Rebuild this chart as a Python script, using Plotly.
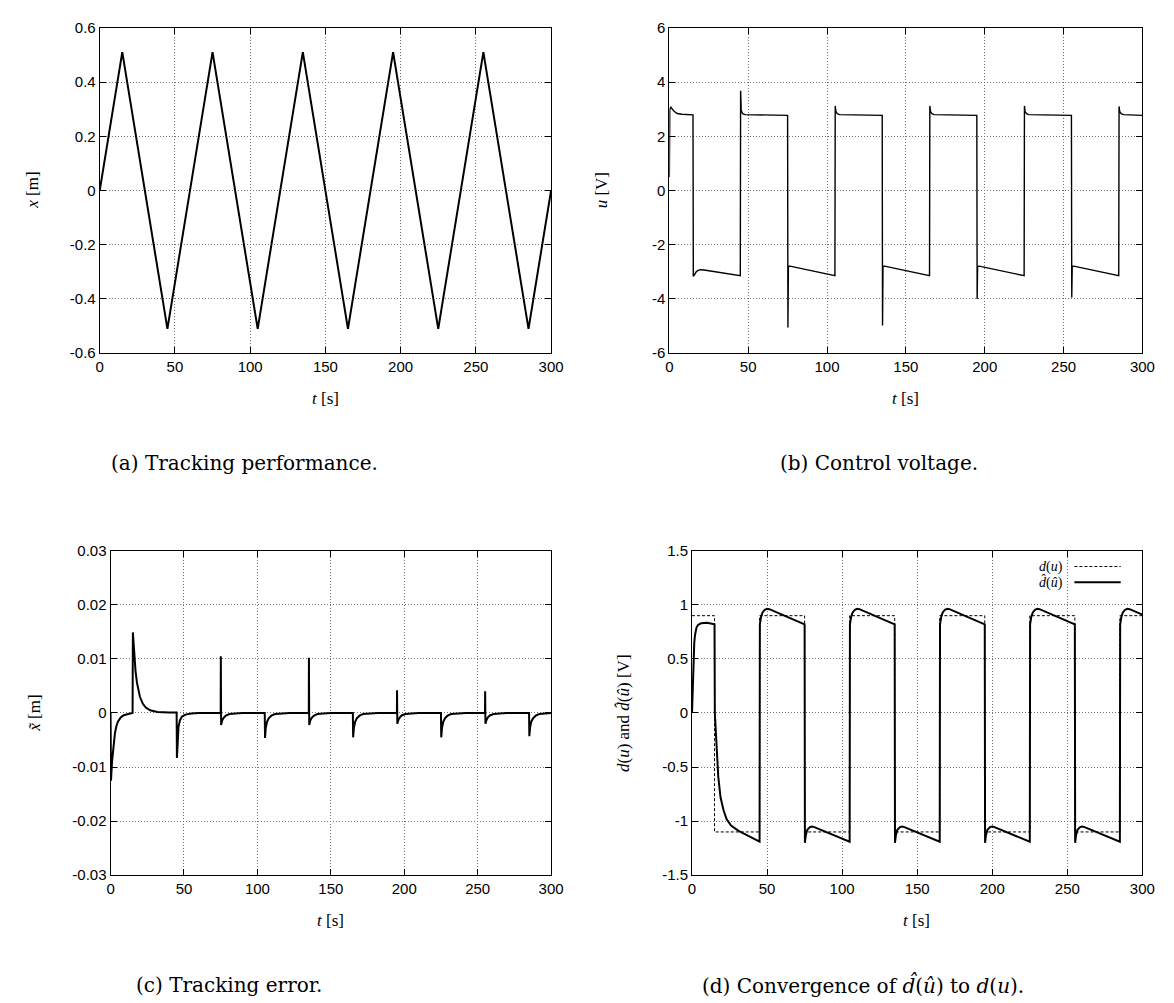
import plotly.graph_objects as go

# ---------------- data ----------------
t_ticks = [0, 50, 100, 150, 200, 250, 300]

# (a) tracking performance: triangular trajectory vertices
a_t = [0, 15, 45, 75, 105, 135, 165, 195, 225, 255, 285, 300]
a_x = [0, 0.51, -0.51, 0.51, -0.51, 0.51, -0.51, 0.51, -0.51, 0.51, -0.51, 0]
a_yticks = [-0.6, -0.4, -0.2, 0, 0.2, 0.4, 0.6]
a_ylabels = ["-0.6", "-0.4", "-0.2", "0", "0.2", "0.4", "0.6"]

# (b) control voltage
b_t = [0, 0.3, 1, 2, 3, 5, 8, 15,
       15.2, 16, 17, 18.5, 20, 22, 45,
       45.2, 45.6, 46.5, 48, 75,
       75.2, 75.5, 76.5, 105,
       105.2, 105.6, 106.5, 108, 135,
       135.2, 135.5, 136.5, 165,
       165.2, 165.6, 166.5, 168, 195,
       195.2, 195.5, 196.5, 225,
       225.2, 225.6, 226.5, 228, 255,
       255.2, 255.5, 256.5, 285,
       285.2, 285.6, 286.5, 288, 300]
b_u = [0.5, 3.0, 3.07, 3.0, 2.92, 2.84, 2.81, 2.79,
       -3.17, -3.1, -3.0, -2.94, -2.92, -2.93, -3.14,
       3.68, 2.95, 2.83, 2.8, 2.77,
       -5.05, -2.8, -2.79, -3.14,
       3.12, 2.92, 2.83, 2.8, 2.77,
       -4.98, -2.8, -2.79, -3.14,
       3.12, 2.92, 2.83, 2.8, 2.77,
       -4.0, -2.8, -2.79, -3.14,
       3.12, 2.92, 2.83, 2.8, 2.77,
       -3.95, -2.8, -2.79, -3.14,
       3.1, 2.92, 2.83, 2.8, 2.77]
b_yticks = [-6, -4, -2, 0, 2, 4, 6]
b_ylabels = ["-6", "-4", "-2", "0", "2", "4", "6"]

# (c) tracking error
c_t = [0, 0.3, 1, 2, 3, 4, 5, 7, 9, 12, 15,
       15.2, 16, 17, 18, 19, 20, 22, 24, 27, 32, 40, 45,
       45.2, 45.6, 46.3, 47.2, 48.5, 51, 55, 60, 75,
       75.1, 75.3, 76, 77, 78.5, 81, 85, 90, 105,
       105.2, 105.7, 106.5, 107.7, 109.5, 112, 116, 122, 135,
       135.1, 135.3, 136, 137, 138.5, 141, 145, 150, 165,
       165.2, 165.7, 166.5, 167.7, 169.5, 172, 176, 182, 195,
       195.1, 195.3, 196, 197, 198.5, 201, 205, 210, 225,
       225.2, 225.7, 226.5, 227.7, 229.5, 232, 236, 242, 255,
       255.1, 255.3, 256, 257, 258.5, 261, 265, 270, 285,
       285.2, 285.7, 286.5, 287.7, 289.5, 292, 296, 300]
c_e = [0, -0.0125, -0.009, -0.0057, -0.0037, -0.0024, -0.0016, -0.0008, -0.0004, -0.0002, 0,
       0.0149, 0.0112, 0.0078, 0.0056, 0.0041, 0.003, 0.0017, 0.001, 0.0005, 0.0002, 0.0001, 0.0001,
       -0.0083, -0.0045, -0.0025, -0.0014, -0.0007, -0.0003, -0.0001, 0, 0,
       0.0105, -0.0022, -0.0014, -0.0009, -0.0005, -0.0002, -0.0001, 0, 0,
       -0.0046, -0.0028, -0.0017, -0.001, -0.0005, -0.0002, -0.0001, 0, 0,
       0.0102, -0.0022, -0.0014, -0.0009, -0.0005, -0.0002, -0.0001, 0, 0,
       -0.0045, -0.0028, -0.0017, -0.001, -0.0005, -0.0002, -0.0001, 0, 0,
       0.0042, -0.002, -0.0013, -0.0008, -0.0004, -0.0002, -0.0001, 0, 0,
       -0.0045, -0.0028, -0.0017, -0.001, -0.0005, -0.0002, -0.0001, 0, 0,
       0.004, -0.002, -0.0013, -0.0008, -0.0004, -0.0002, -0.0001, 0, 0,
       -0.0043, -0.0027, -0.0016, -0.001, -0.0005, -0.0002, -0.0001, 0]
c_yticks = [-0.03, -0.02, -0.01, 0, 0.01, 0.02, 0.03]
c_ylabels = ["-0.03", "-0.02", "-0.01", "0", "0.01", "0.02", "0.03"]

# (d) true dead-zone d(u) (step values, held until next time) and estimate
d_t = [0, 15, 45, 75, 105, 135, 165, 195, 225, 255, 285, 300]
d_u = [0.9, -1.1, 0.9, -1.1, 0.9, -1.1, 0.9, -1.1, 0.9, -1.1, 0.9, 0.9]
dh_t = [0, 0.5, 1, 1.5, 2, 3, 4, 6, 10, 15,
        15.2, 16.3, 17.5, 19, 21, 23, 26, 31, 45,
        45.2, 46, 47, 48.5, 50, 51.5, 75,
        75.2, 75.8, 76.8, 78.5, 80, 81.5, 105,
        105.2, 106, 107, 108.5, 110, 111.5, 135,
        135.2, 135.8, 136.8, 138.5, 140, 141.5, 165,
        165.2, 166, 167, 168.5, 170, 171.5, 195,
        195.2, 195.8, 196.8, 198.5, 200, 201.5, 225,
        225.2, 226, 227, 228.5, 230, 231.5, 255,
        255.2, 255.8, 256.8, 258.5, 260, 261.5, 285,
        285.2, 286, 287, 288.5, 290, 291.5, 300]
dh_v = [0, 0.3, 0.52, 0.65, 0.72, 0.79, 0.815, 0.83, 0.835, 0.82,
        0.0, -0.3, -0.59, -0.78, -0.9, -0.98, -1.04, -1.09, -1.19,
        0.82, 0.89, 0.93, 0.955, 0.963, 0.96, 0.82,
        -1.2, -1.13, -1.08, -1.055, -1.05, -1.055, -1.19,
        0.82, 0.89, 0.93, 0.955, 0.963, 0.96, 0.82,
        -1.2, -1.13, -1.08, -1.055, -1.05, -1.055, -1.19,
        0.82, 0.89, 0.93, 0.955, 0.963, 0.96, 0.82,
        -1.2, -1.13, -1.08, -1.055, -1.05, -1.055, -1.19,
        0.82, 0.89, 0.93, 0.955, 0.963, 0.96, 0.82,
        -1.2, -1.13, -1.08, -1.055, -1.05, -1.055, -1.19,
        0.82, 0.89, 0.93, 0.955, 0.963, 0.96, 0.91]
d_yticks = [-1.5, -1, -0.5, 0, 0.5, 1, 1.5]
d_ylabels = ["-1.5", "-1", "-0.5", "0", "0.5", "1", "1.5"]

# ---------------- layout ----------------
W, H = 1174, 1003
def px(x): return x / W
def py(y): return 1 - y / H

boxes = {  # pixel boxes (left, right, top, bottom)
    1: (89, 547, 11, 342),
    2: (667, 1147, 11, 342),
    3: (100, 547, 543, 873),
    4: (690, 1147, 543, 873),
}

SERIF = "Liberation Serif"
CAPFONT = "DejaVu Serif"
SANS = "Liberation Sans"

fig = go.Figure()
fig.add_trace(go.Scatter(x=a_t, y=a_x, mode="lines", line=dict(color="black", width=2),
                         xaxis="x", yaxis="y", showlegend=False))
fig.add_trace(go.Scatter(x=b_t, y=b_u, mode="lines", line=dict(color="black", width=1.4),
                         xaxis="x2", yaxis="y2", showlegend=False))
fig.add_trace(go.Scatter(x=c_t, y=c_e, mode="lines", line=dict(color="black", width=2),
                         xaxis="x3", yaxis="y3", showlegend=False))
fig.add_trace(go.Scatter(x=d_t, y=d_u, mode="lines", line_shape="hv",
                         line=dict(color="black", width=1, dash="3px,2px"),
                         xaxis="x4", yaxis="y4", showlegend=False))
fig.add_trace(go.Scatter(x=dh_t, y=dh_v, mode="lines", line=dict(color="black", width=2),
                         xaxis="x4", yaxis="y4", showlegend=False))

common = dict(showline=True, linecolor="black", linewidth=1, mirror="ticks",
              ticks="inside", ticklen=6, tickcolor="black", showgrid=True,
              gridcolor="#707070", griddash="1px,2px", gridwidth=1, zeroline=False,
              tickfont=dict(family=SANS, size=15, color="black"))

yinfo = {1: (a_yticks, a_ylabels), 2: (b_yticks, b_ylabels),
         3: (c_yticks, c_ylabels), 4: (d_yticks, d_ylabels)}
lay = {}
for k, (l, r, t, b) in boxes.items():
    xs = "" if k == 1 else str(k)
    yv, yl = yinfo[k]
    lay["xaxis" + xs] = dict(domain=[px(l), px(r)], anchor="y" + xs, range=[0, 300],
                             tickvals=t_ticks, ticktext=[str(v) for v in t_ticks], **common)
    lay["yaxis" + xs] = dict(domain=[py(b), py(t)], anchor="x" + xs,
                             range=[yv[0], yv[-1]], tickvals=yv, ticktext=yl, **common)

fig.update_layout(width=W, height=H, margin=dict(l=0, r=0, t=0, b=0),
                  paper_bgcolor="white", plot_bgcolor="white", **lay)

ann = []
def text(x, y, s, size=17, angle=0, xanchor="center", family=SERIF):
    ann.append(dict(x=px(x), y=py(y), xref="paper", yref="paper", text=s, showarrow=False,
                    textangle=angle, xanchor=xanchor, yanchor="middle",
                    font=dict(family=family, size=size, color="black")))

# axis titles
text(318, 388, "<i>t</i> [s]")
text(907, 388, "<i>t</i> [s]")
text(323, 919, "<i>t</i> [s]")
text(918, 919, "<i>t</i> [s]")
text(20, 176, "<i>x</i> [m]", angle=-90)
text(598, 176, "<i>u</i> [V]", angle=-90)
text(22, 708, "<i>x\u0303</i> [m]", angle=-90)
text(620, 708, "<i>d</i>(<i>u</i>) and <i>d\u0302</i>(<i>\u00fb</i>) [V]", angle=-90)

# captions
text(236, 454, "(a) Tracking performance.", size=20, family=CAPFONT)
text(880, 454, "(b) Control voltage.", size=20, family=CAPFONT)
text(220, 985, "(c) Tracking error.", size=20, family=CAPFONT)
text(864, 985, "(d) Convergence of <i>d\u0302</i>(<i>\u00fb</i>) to <i>d</i>(<i>u</i>).", size=20, family=CAPFONT)

# legend of (d)
text(1068, 559, "<i>d</i>(<i>u</i>)", size=14, xanchor="right")
text(1068, 575, "<i>d\u0302</i>(<i>\u00fb</i>)", size=14, xanchor="right")
shapes = [
    dict(type="line", xref="paper", yref="paper", x0=px(1078), x1=px(1125), y0=py(559), y1=py(559),
         line=dict(color="black", width=1, dash="3px,2px")),
    dict(type="line", xref="paper", yref="paper", x0=px(1078), x1=px(1125), y0=py(575), y1=py(575),
         line=dict(color="black", width=2)),
]
fig.update_layout(annotations=ann, shapes=shapes)

fig.write_html("out.html")
